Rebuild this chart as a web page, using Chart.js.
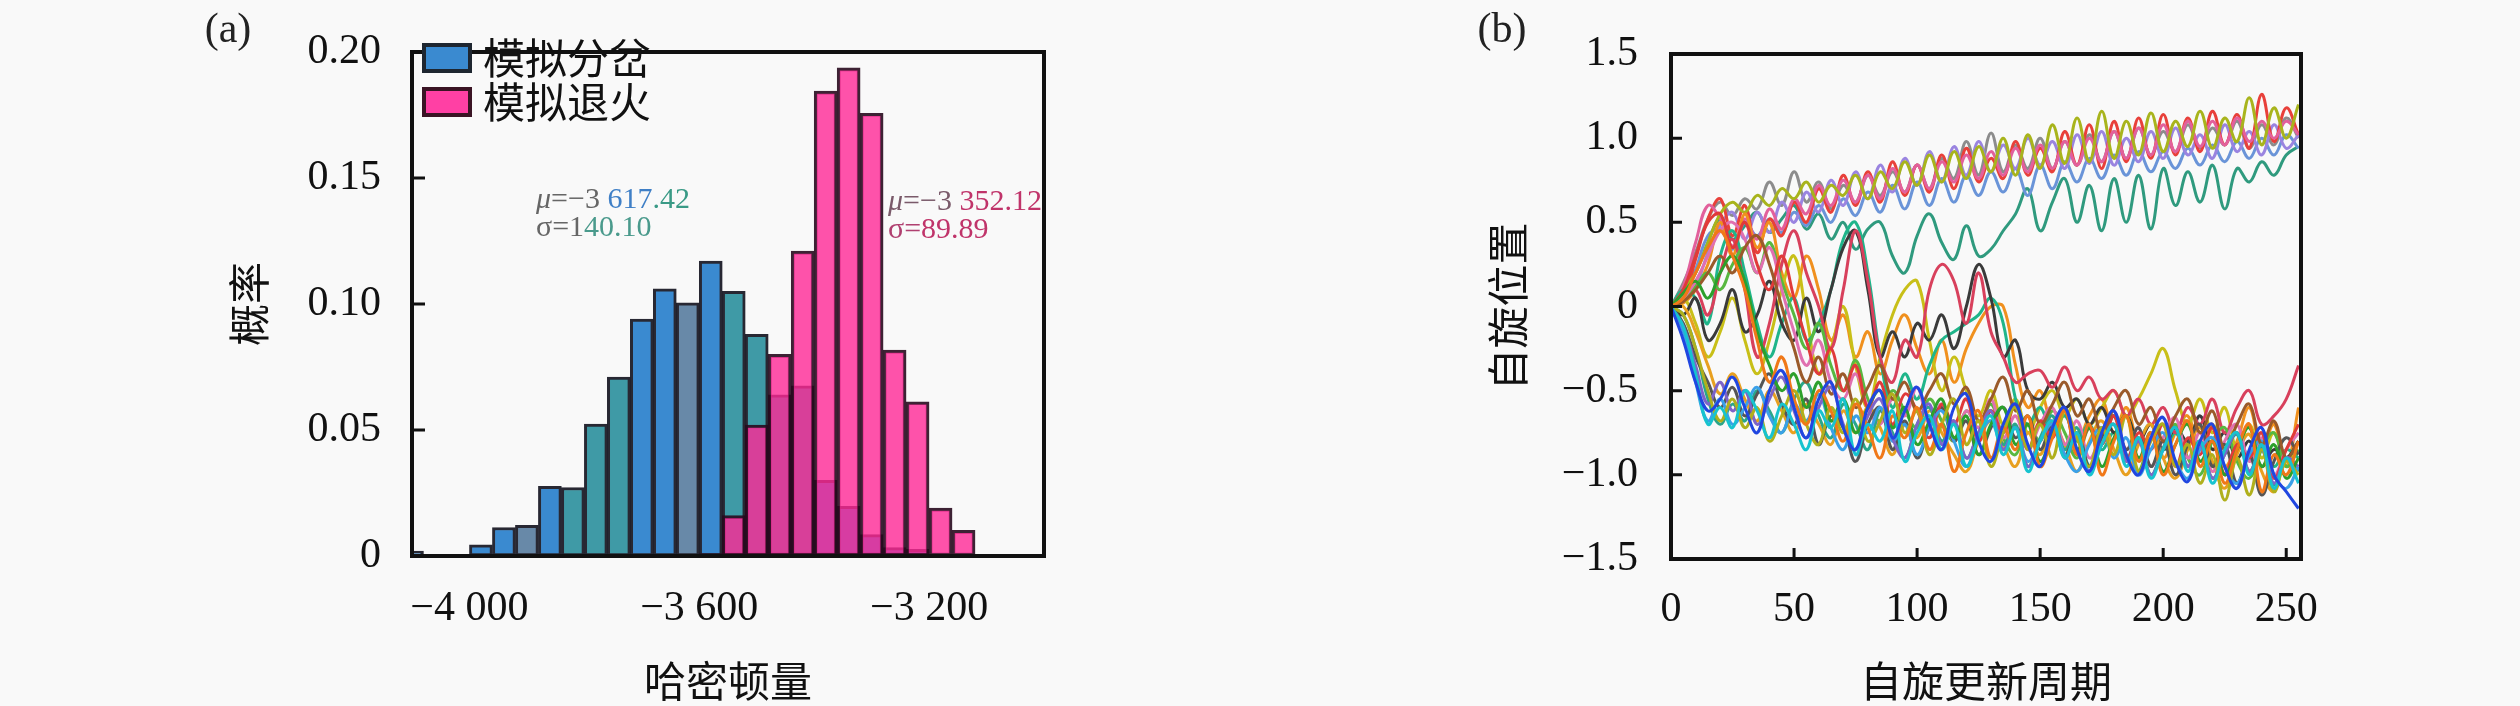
<!DOCTYPE html>
<html>
<head>
<meta charset="utf-8">
<script src="https://cdn.jsdelivr.net/npm/chart.js@4.4.1/dist/chart.umd.min.js"></script>
<style>
  html, body { margin: 0; padding: 0; background: #f9f9f9; }
  #wrap { position: relative; width: 2520px; height: 706px; }
  .pane { position: absolute; top: 0; width: 1260px; height: 706px; }
</style>
</head>
<body>
<div id="wrap">
  <div class="pane" style="left:0"><canvas id="histChart" width="1260" height="706"></canvas></div>
  <div class="pane" style="left:1260px"><canvas id="spinChart" width="1260" height="706"></canvas></div>
</div>
<script>
// ===== (a) 直方图数据：40 一格的分箱中心 =====
const binCenters = [-4100, -4060, -4020, -3980, -3940, -3900, -3860, -3820, -3780, -3740,
  -3700, -3660, -3620, -3580, -3540, -3500, -3460, -3420, -3380, -3340,
  -3300, -3260, -3220, -3180, -3140, -3100, -3060];
const bifurcationProb = [0.002, 0.0005, 0.0005, 0.0044, 0.0113, 0.0122, 0.0276, 0.0272, 0.0523, 0.071,
  0.094, 0.106, 0.1005, 0.117, 0.105, 0.088, 0.064, 0.0675, 0.030, 0.0197,
  0.0085, 0.0033, 0.0026, 0, 0, 0, 0];
const annealingProb = [0, 0, 0, 0, 0, 0, 0, 0, 0, 0,
  0, 0, 0, 0.001, 0.016, 0.052, 0.080, 0.121, 0.1845, 0.1937,
  0.1757, 0.0817, 0.0612, 0.019, 0.0102, 0.0007, 0.0007];
const energyTicks = [-4000, -3600, -3200];
const probTicks = [0, 0.05, 0.10, 0.15, 0.20];
const seriesNames = ['模拟分岔', '模拟退火'];

// 拟合参数文字（分段上色，跟原图一样有点杂色）
const bifurcationStats = [
  [{ t: 'μ', c: '#666', i: true }, { t: '=−3 ', c: '#666' }, { t: '617', c: '#3f7fc6' }, { t: '.42', c: '#3a9a86' }],
  [{ t: 'σ=1', c: '#666' }, { t: '40.10', c: '#4a9a8c' }]
];
const annealingStats = [
  [{ t: 'μ', c: '#7a5a6a', i: true }, { t: '=−3 ', c: '#7a5a6a' }, { t: '352.12', c: '#c0346a' }],
  [{ t: 'σ=', c: '#b04070' }, { t: '89.89', c: '#c0346a' }]
];

// ===== (b) 自旋位置演化：每 5 个周期取一点 =====
const cycles = [0, 5, 10, 15, 20, 25, 30, 35, 40, 45, 50, 55, 60, 65, 70, 75, 80, 85, 90, 95,
  100, 105, 110, 115, 120, 125, 130, 135, 140, 145, 150, 155, 160, 165, 170, 175, 180, 185, 190, 195,
  200, 205, 210, 215, 220, 225, 230, 235, 240, 245, 250, 255];
const cycleTicks = [0, 50, 100, 150, 200, 250];
const spinTicks = [-1.5, -1.0, -0.5, 0, 0.5, 1.0, 1.5];

// 下方分支
const lowBlue = [0,-0.2,-0.45,-0.62,-0.55,-0.42,-0.6,-0.75,-0.5,-0.38, -0.6,-0.78,-0.55,-0.45,-0.72,-0.85,-0.6,-0.5,-0.78,-0.62, -0.48,-0.7,-0.85,-0.6,-0.52,-0.8,-0.92,-0.7,-0.58,-0.82, -0.95,-0.72,-0.6,-0.85,-0.98,-0.75,-0.62,-0.88,-1.0,-0.78, -0.66,-0.92,-1.04,-0.8,-0.7,-0.95,-1.08,-0.85,-0.72,-1.0, -1.1,-1.2];
const lowCyan = [0,-0.12,-0.4,-0.7,-0.6,-0.72,-0.5,-0.62,-0.78,-0.58, -0.7,-0.85,-0.62,-0.72,-0.55,-0.88,-0.7,-0.8,-0.62,-0.92, -0.75,-0.65,-0.85,-0.7,-0.95,-0.78,-0.65,-0.88,-0.72,-0.98, -0.8,-0.68,-0.9,-0.75,-1.0,-0.82,-0.7,-0.95,-0.78,-1.02, -0.85,-0.72,-0.98,-0.8,-1.05,-0.85,-0.75,-1.0,-0.82,-1.08, -0.9,-1.05];
const lowOrange = [0,0.05,0.2,0.35,0.45,0.3,0.1,-0.2,-0.45,-0.3, -0.55,-0.7,-0.5,-0.62,-0.8,-0.58,-0.72,-0.9,-0.65,-0.78, -0.6,-0.85,-0.7,-0.98,-0.75,-0.62,-0.9,-0.72,-0.85,-0.65, -0.95,-0.78,-0.62,-0.88,-0.7,-1.0,-0.8,-0.65,-0.92,-0.75, -1.0,-0.82,-0.68,-0.95,-0.8,-1.05,-0.85,-0.7,-1.1,-0.88, -1.0,-0.8];
const lowOlive = [0,-0.05,-0.25,-0.5,-0.68,-0.55,-0.72,-0.6,-0.8,-0.65, -0.5,-0.7,-0.82,-0.6,-0.75,-0.55,-0.8,-0.68,-0.52,-0.75, -0.62,-0.88,-0.7,-0.55,-0.82,-0.68,-0.95,-0.75,-0.6,-0.85, -0.7,-0.9,-0.62,-0.78,-0.95,-0.72,-0.88,-0.65,-0.98,-0.8, -0.7,-0.95,-0.82,-1.05,-0.88,-1.15,-0.9,-1.12,-0.85,-1.1, -0.92,-1.0];
const lowGreen = [0,0.08,0.15,0.05,0.2,0.3,0.15,-0.15,-0.35,-0.5, -0.4,-0.6,-0.45,-0.68,-0.55,-0.75,-0.6,-0.5,-0.72,-0.6, -0.82,-0.68,-0.55,-0.78,-0.65,-0.88,-0.7,-0.6,-0.82,-0.7, -0.92,-0.75,-0.62,-0.85,-0.72,-0.95,-0.78,-0.65,-0.9,-0.75, -0.98,-0.82,-0.7,-0.92,-0.8,-1.0,-0.85,-0.72,-0.95,-0.82, -1.02,-0.9];
const lowPurple = [0,-0.12,-0.35,-0.58,-0.45,-0.62,-0.5,-0.7,-0.55,-0.42, -0.62,-0.78,-0.6,-0.48,-0.7,-0.85,-0.65,-0.55,-0.78,-0.9, -0.7,-0.58,-0.82,-0.68,-0.9,-0.75,-0.62,-0.85,-0.72,-0.95, -0.8,-0.68,-0.9,-0.78,-0.98,-0.82,-0.7,-0.92,-0.8,-1.0, -0.85,-0.72,-0.95,-0.82,-1.02,-0.88,-0.75,-0.98,-0.85,-1.05, -0.9,-0.95];
const lowBrown = [0,0.03,0.1,0.2,0.3,0.2,0.35,0.42,0.25,0.0, -0.25,-0.45,-0.3,-0.52,-0.4,-0.6,-0.48,-0.35,-0.55,-0.45, -0.62,-0.5,-0.4,-0.58,-0.48,-0.68,-0.55,-0.42,-0.62,-0.5, -0.7,-0.58,-0.45,-0.65,-0.55,-0.75,-0.6,-0.5,-0.7,-0.6, -0.8,-0.65,-0.55,-0.75,-0.62,-0.85,-0.7,-0.58,-0.82,-0.68, -0.9,-0.8];
const lowSky = [0,-0.15,-0.45,-0.68,-0.55,-0.7,-0.6,-0.48,-0.65,-0.75, -0.58,-0.68,-0.52,-0.72,-0.85,-0.65,-0.75,-0.6,-0.8,-0.7, -0.88,-0.72,-0.62,-0.8,-0.95,-0.78,-0.68,-0.85,-0.72,-0.92, -0.8,-0.7,-0.88,-0.98,-0.82,-0.72,-0.9,-0.78,-1.0,-0.85, -0.75,-0.92,-1.02,-0.85,-0.78,-0.95,-1.05,-0.88,-0.8,-1.0, -1.08,-0.95];
const lowRed = [0,0.1,0.3,0.5,0.55,0.35,0.5,0.25,0.1,0.3, 0.05,-0.2,-0.4,-0.25,-0.5,-0.35,-0.6,-0.45,-0.7,-0.52, -0.62,-0.78,-0.58,-0.7,-0.55,-0.8,-0.62,-0.75,-0.58,-0.85, -0.68,-0.78,-0.62,-0.88,-0.72,-0.82,-0.65,-0.92,-0.75,-0.85, -0.7,-0.95,-0.78,-0.88,-0.72,-1.0,-0.82,-0.9,-0.75,-1.02, -0.85,-0.7];
const lowSlate = [0,-0.1,-0.3,-0.45,-0.6,-0.48,-0.65,-0.52,-0.4,-0.58, -0.7,-0.55,-0.82,-0.65,-0.72,-0.92,-0.7,-0.6,-0.85,-0.68, -0.9,-0.72,-0.6,-0.8,-0.68,-0.88,-0.72,-0.6,-0.78,-0.65, -0.85,-0.7,-0.88,-0.75,-0.95,-0.78,-0.65,-0.85,-0.72,-0.95, -0.8,-1.0,-0.82,-0.7,-0.95,-0.82,-1.05,-0.88,-1.12,-0.92, -0.78,-0.88];
const lowTeal = [0,-0.05,-0.25,-0.55,-0.7,-0.58,-0.68,-0.5,-0.62,-0.75, -0.55,-0.45,-0.65,-0.78,-0.58,-0.7,-0.85,-0.62,-0.75,-0.9, -0.7,-0.6,-0.8,-0.68,-0.9,-0.75,-0.62,-0.82,-0.7,-0.95, -0.78,-0.65,-0.85,-0.72,-0.95,-0.82,-0.7,-0.9,-0.78,-1.0, -0.84,-0.72,-0.95,-0.8,-1.02,-0.88,-0.76,-0.98,-0.84,-1.06, -0.9,-0.98];
const lowPink = [0,0.05,0.15,0.3,0.45,0.5,0.4,0.2,0.35,0.1, -0.15,-0.35,-0.2,-0.45,-0.55,-0.4,-0.6,-0.7,-0.55,-0.65, -0.48,-0.7,-0.58,-0.8,-0.62,-0.72,-0.55,-0.78,-0.65,-0.85, -0.7,-0.6,-0.82,-0.68,-0.9,-0.75,-0.62,-0.85,-0.72,-0.95, -0.78,-0.66,-0.9,-0.75,-0.98,-0.8,-0.7,-0.92,-0.78,-1.0, -0.85,-0.75];
const lowAmber = [0,0.0,-0.15,-0.35,-0.52,-0.4,-0.55,-0.68,-0.5,-0.62, -0.75,-0.58,-0.7,-0.82,-0.62,-0.75,-0.6,-0.72,-0.88,-0.7, -0.78,-0.62,-0.75,-0.88,-0.98,-0.8,-0.68,-0.82,-0.95,-0.75, -0.88,-0.7,-0.82,-0.98,-0.8,-0.68,-0.85,-1.0,-0.82,-0.7, -0.9,-1.02,-0.85,-0.72,-0.92,-1.08,-0.88,-0.76,-0.98,-1.1, -0.9,-0.98];
const lowLime = [0,0.05,0.12,0.2,0.1,0.25,0.35,0.2,0.38,0.15, -0.05,-0.25,-0.1,-0.35,-0.5,-0.32,-0.55,-0.68,-0.5,-0.62, -0.72,-0.55,-0.68,-0.8,-0.62,-0.72,-0.58,-0.78,-0.88,-0.7, -0.8,-0.62,-0.75,-0.9,-0.72,-0.82,-0.65,-0.88,-0.98,-0.78, -0.85,-0.7,-0.9,-1.0,-0.8,-0.72,-0.92,-1.02,-0.85,-0.75, -0.95,-0.85];

// 中间徘徊、后来才落到下方的几条
const midCrimson = [0,0.05,0.10,-0.05,0.20,0.40,0.10,-0.30,-0.10,0.25, 0.45,0.20,0.00,-0.25,0.10,0.45,0.15,-0.30,-0.45,-0.20, -0.30,0.10,0.25,0.15,-0.10,0.20,-0.15,-0.30,-0.45,-0.40, -0.38,-0.48,-0.36,-0.50,-0.42,-0.55,-0.50,-0.65,-0.55,-0.70, -0.60,-0.75,-0.60,-0.70,-0.55,-0.75,-0.60,-0.50,-0.70,-0.65, -0.55,-0.35];
const midDark = [0,-0.05,0.05,-0.20,-0.10,0.10,-0.15,-0.05,0.15,-0.10, -0.20,0.05,-0.15,0.10,0.35,0.45,0.10,-0.30,-0.15,-0.30, -0.10,-0.20,-0.05,-0.25,0.00,0.25,0.05,-0.30,-0.20,-0.50, -0.55,-0.45,-0.60,-0.55,-0.70,-0.60,-0.75,-0.65,-0.80,-0.70, -0.85,-0.72,-0.80,-0.65,-0.85,-0.75,-0.90,-0.80,-0.95,-0.85, -0.90,-0.80];
const midGreen = [0,0.10,0.05,-0.10,0.30,0.45,0.20,-0.10,-0.30,-0.10, 0.05,-0.20,-0.10,0.10,0.40,0.50,0.20,-0.30,-0.60,-0.40, -0.55,-0.35,-0.20,-0.15,-0.10,-0.05,0.05,-0.10,-0.55,-0.70, -0.60,-0.75,-0.65,-0.80,-0.70,-0.85,-0.75,-0.90,-0.80,-0.70, -0.85,-0.75,-0.90,-0.80,-0.95,-0.85,-0.75,-0.90,-0.80,-0.95, -0.85,-0.90];
const midYellow = [0,0.05,-0.10,-0.30,-0.15,0.05,-0.20,-0.40,-0.20,0.10, 0.30,-0.05,-0.40,-0.25,0.00,-0.35,-0.60,-0.30,-0.05,0.10, 0.15,-0.20,-0.50,-0.30,-0.50,-0.65,-0.50,-0.70,-0.55,-0.75, -0.60,-0.50,-0.65,-0.55,-0.70,-0.60,-0.50,-0.65,-0.55,-0.40, -0.25,-0.50,-0.70,-0.55,-0.75,-0.60,-0.85,-0.70,-0.90,-0.75, -0.95,-0.80];
const midOrange = [0,0.02,0.10,0.25,0.50,0.30,0.55,0.35,0.50,0.20, 0.05,0.30,0.10,-0.20,-0.05,-0.30,-0.15,-0.40,-0.20,-0.05, -0.25,-0.40,-0.20,-0.45,-0.25,-0.10,0.00,0.00,-0.35,-0.60, -0.50,-0.70,-0.60,-0.80,-0.65,-0.55,-0.75,-0.60,-0.80,-0.70, -0.90,-0.75,-0.65,-0.85,-0.70,-0.95,-0.80,-0.60,-0.85,-0.70, -0.95,-0.60];

// 上方分支
const upOlive = [0,0.1,0.2,0.38,0.55,0.62,0.56,0.66,0.6,0.7, 0.64,0.74,0.62,0.72,0.66,0.78,0.64,0.8,0.7,0.86, 0.72,0.9,0.74,0.92,0.76,0.95,0.8,1.0,0.78,1.02, 0.82,1.08,0.85,1.12,0.86,1.16,0.88,1.1,0.9,1.15, 0.92,1.1,0.95,1.16,0.94,1.12,0.98,1.24,0.96,1.18, 1.0,1.2];
const upPink = [0,0.12,0.38,0.6,0.52,0.36,0.52,0.4,0.58,0.46, 0.64,0.55,0.72,0.6,0.75,0.62,0.78,0.64,0.82,0.68, 0.84,0.7,0.86,0.74,0.9,0.76,0.92,0.78,0.94,0.8, 0.96,0.82,0.98,0.84,1.0,0.86,1.04,0.88,1.06,0.9, 1.08,0.92,1.1,0.95,1.1,0.96,1.12,0.98,1.1,1.0, 1.1,1.02];
const upRed = [0,0.05,0.28,0.52,0.64,0.42,0.6,0.32,0.52,0.42, 0.62,0.5,0.7,0.56,0.78,0.6,0.8,0.62,0.86,0.66, 0.84,0.68,0.9,0.7,0.94,0.74,0.88,0.76,0.98,0.78, 0.94,0.8,1.04,0.84,1.08,0.82,1.1,0.86,1.12,0.88, 1.14,0.9,1.12,0.92,1.16,0.96,1.14,0.94,1.26,0.98, 1.18,1.02];
const upViolet = [0,0.04,0.12,0.32,0.48,0.56,0.4,0.56,0.44,0.62, 0.5,0.68,0.56,0.75,0.6,0.8,0.64,0.84,0.68,0.88, 0.72,0.92,0.74,0.95,0.78,0.98,0.8,0.96,0.82,1.0, 0.84,0.98,0.82,1.02,0.85,1.04,0.84,1.0,0.86,1.04, 0.88,1.06,0.9,1.02,0.88,1.08,0.92,1.04,0.9,1.08, 0.94,1.02];
const upGray = [0,0.14,0.32,0.52,0.62,0.54,0.64,0.58,0.74,0.6, 0.8,0.62,0.74,0.58,0.72,0.62,0.78,0.66,0.8,0.68, 0.84,0.7,0.88,0.76,0.98,0.78,1.03,0.8,0.96,0.82, 1.0,0.82,0.98,0.84,1.02,0.86,1.04,0.88,1.06,0.9, 1.04,0.92,1.08,0.94,1.06,0.96,1.1,0.94,1.08,0.96, 1.12,1.0];
const upSteel = [0,0.06,0.22,0.42,0.46,0.34,0.5,0.42,0.52,0.44, 0.56,0.48,0.6,0.5,0.64,0.54,0.68,0.56,0.72,0.58, 0.74,0.6,0.76,0.62,0.78,0.66,0.8,0.68,0.82,0.66, 0.84,0.7,0.86,0.74,0.88,0.76,0.9,0.78,0.92,0.8, 0.92,0.82,0.94,0.84,0.96,0.86,0.98,0.88,1.0,0.9, 1.02,0.94];
const upTeal = [0,0.08,0.2,0.38,0.52,0.4,0.48,0.56,0.44,0.52, 0.6,0.46,0.55,0.4,0.5,0.34,0.46,0.5,0.3,0.2, 0.42,0.55,0.38,0.28,0.48,0.3,0.34,0.45,0.55,0.7, 0.45,0.62,0.76,0.5,0.72,0.45,0.76,0.5,0.78,0.46, 0.82,0.6,0.8,0.62,0.84,0.58,0.82,0.74,0.86,0.78, 0.9,0.95];

const spinSeries = [lowBlue, lowCyan, lowOrange, lowOlive, lowGreen, lowPurple, lowBrown, lowSky, lowRed,
  lowSlate, lowTeal, lowPink, lowAmber, lowLime,
  midCrimson, midDark, midGreen, midYellow, midOrange,
  upOlive, upPink, upRed, upViolet, upGray, upSteel, upTeal];
const spinColors = ['#2046e0', '#17c3cf', '#f07818', '#b0b01c', '#2ca02c', '#7d64c8', '#9a5a2a', '#3aa0e8', '#e03a3a',
  '#555555', '#2aa68a', '#e070b0', '#e8a020', '#58b840',
  '#d8405c', '#3a3a3a', '#1fb58a', '#c8bf18', '#f0901e',
  '#a8b41c', '#e2609c', '#e8403a', '#9a84e0', '#8c8c8c', '#6a94d8', '#2f9a7e'];

// 蓝色柱子原图有深浅不一（蓝 / 青 / 灰蓝）
const B = '#3a8ad0', T = '#3f9aa6', S = '#6889a8';
const bifurcationShades = [B, B, B, B, B, S, B, T, T, T, B, B, S, B, T, T, T, T, B, B, B, B, B, B, B, B, B];

const tickFont = { family: 'Liberation Serif', size: 42, lineHeight: 1 };
const titleFont = { family: 'Noto Sans CJK SC', size: 42 };
const INK = '#111';

function fmtEnergy(v) {
  const s = String(Math.abs(v));
  return (v < 0 ? '\u2212' : '') + s.slice(0, -3) + ' ' + s.slice(-3);
}
function fmtProb(v) { return v === 0 ? '0' : v.toFixed(2); }
function fmtSpin(v) { return v === 0 ? '0' : (v < 0 ? '\u2212' : '') + Math.abs(v).toFixed(1); }

// 边框、向内刻度、(a)/(b) 标号
const panelDecor = {
  id: 'panelDecor',
  afterDatasetsDraw(chart, args, opts) {
    const ctx = chart.ctx, a = chart.chartArea;
    ctx.save();
    ctx.strokeStyle = INK;
    ctx.lineWidth = 3;
    ctx.beginPath();
    (opts.yTicks || []).forEach(v => {
      const y = chart.scales.y.getPixelForValue(v);
      ctx.moveTo(a.left, y); ctx.lineTo(a.left + opts.tickLen, y);
    });
    (opts.xTicks || []).forEach(v => {
      const x = chart.scales.x.getPixelForValue(v);
      ctx.moveTo(x, a.bottom); ctx.lineTo(x, a.bottom - opts.tickLen);
    });
    ctx.stroke();
    ctx.lineWidth = 4;
    ctx.strokeRect(a.left, a.top, a.right - a.left, a.bottom - a.top);
    ctx.fillStyle = '#222';
    ctx.font = '42px "Liberation Serif"';
    ctx.textAlign = 'center';
    ctx.textBaseline = 'middle';
    ctx.fillText(opts.tag, opts.tagX, opts.tagY);
    ctx.restore();
  }
};

// 图例 + μ/σ 文字
function drawSegments(ctx, segs, x, y) {
  segs.forEach(s => {
    ctx.font = (s.i ? 'italic ' : '') + '30px "Liberation Serif"';
    ctx.fillStyle = s.c;
    ctx.fillText(s.t, x, y);
    x += ctx.measureText(s.t).width;
  });
}
const histNotes = {
  id: 'histNotes',
  afterDraw(chart) {
    const ctx = chart.ctx;
    ctx.save();
    const patchFill = [B, '#ff40a4'];
    const patchEdge = ['#1e2630', '#3a1424'];
    chart.data.datasets.forEach((ds, i) => {
      const y = 43 + i * 44;
      ctx.fillStyle = patchFill[i];
      ctx.fillRect(422, y, 50, 30);
      ctx.lineWidth = 4;
      ctx.strokeStyle = patchEdge[i];
      ctx.strokeRect(424, y + 2, 46, 26);
      ctx.fillStyle = INK;
      ctx.font = '42px "Noto Sans CJK SC"';
      ctx.textAlign = 'left';
      ctx.textBaseline = 'middle';
      ctx.fillText(ds.label, 483, y + 15);
    });
    ctx.textAlign = 'left';
    ctx.textBaseline = 'middle';
    bifurcationStats.forEach((line, k) => drawSegments(ctx, line, 536, 200 + k * 28));
    annealingStats.forEach((line, k) => drawSegments(ctx, line, 888, 202 + k * 28));
    ctx.restore();
  }
};

// 柱状图的 x 轴是线性轴：强制范围，不要 offset
const ENERGY_MIN = -4100, ENERGY_MAX = -3000;

// ===== (a) 直方图 =====
new Chart(document.getElementById('histChart'), {
  type: 'bar',
  data: {
    datasets: [
      { label: seriesNames[0], data: binCenters.map((x, i) => ({ x, y: bifurcationProb[i] })),
        backgroundColor: bifurcationShades, borderColor: 'rgba(22,22,34,0.92)', borderWidth: 3,
        borderSkipped: false, grouped: false, barPercentage: 1, categoryPercentage: 1, order: 1 },
      { label: seriesNames[1], data: binCenters.map((x, i) => ({ x, y: annealingProb[i] })),
        backgroundColor: 'rgba(255,40,150,0.8)', borderColor: 'rgba(40,10,30,0.9)', borderWidth: 3,
        borderSkipped: false, grouped: false, barPercentage: 1, categoryPercentage: 1, order: 0 }
    ]
  },
  options: {
    responsive: false, animation: false, devicePixelRatio: 1,
    layout: { padding: { left: 0, top: 23, right: 216, bottom: 0 } },
    plugins: {
      legend: { display: false }, tooltip: { enabled: false },
      panelDecor: { tag: '(a)', tagX: 228, tagY: 31, tickLen: 13, yTicks: [0.05, 0.10, 0.15] }
    },
    scales: {
      x: { type: 'linear', min: ENERGY_MIN, max: ENERGY_MAX, offset: false, bounds: 'data',
        afterDataLimits: s => { s.min = ENERGY_MIN; s.max = ENERGY_MAX; },
        afterBuildTicks: s => { s.ticks = energyTicks.map(v => ({ value: v })); s.min = ENERGY_MIN; s.max = ENERGY_MAX; },
        afterFit: s => { s.height = 150; },
        grid: { display: false, drawTicks: false, offset: false }, border: { display: false },
        ticks: { padding: 32, font: tickFont, color: INK, callback: fmtEnergy, maxRotation: 0, autoSkip: false },
        title: { display: true, text: '哈密顿量', font: titleFont, color: INK, padding: { top: 0, bottom: 0 } } },
      y: { min: 0, max: 0.2,
        afterBuildTicks: s => { s.ticks = probTicks.map(v => ({ value: v })); },
        afterFit: s => { s.width = 412; },
        grid: { display: false, drawTicks: false }, border: { display: false },
        ticks: { padding: 31, font: tickFont, color: INK, callback: fmtProb },
        title: { display: true, text: '概率', font: titleFont, color: INK, padding: { top: 224, bottom: 0 } } }
    }
  },
  plugins: [panelDecor, histNotes]
});

// ===== (b) 自旋位置 =====
new Chart(document.getElementById('spinChart'), {
  type: 'line',
  data: {
    datasets: spinSeries.map((vals, k) => ({
      data: cycles.map((c, i) => ({ x: c, y: vals[i] })),
      borderColor: spinColors[k], borderWidth: 3, pointRadius: 0, tension: 0.4, fill: false
    }))
  },
  options: {
    responsive: false, animation: false, devicePixelRatio: 1,
    layout: { padding: { left: 0, top: 23, right: 219, bottom: 0 } },
    plugins: {
      legend: { display: false }, tooltip: { enabled: false },
      panelDecor: { tag: '(b)', tagX: 242, tagY: 31, tickLen: 11,
        yTicks: [-1.0, -0.5, 0, 0.5, 1.0], xTicks: [50, 100, 150, 200, 250] }
    },
    scales: {
      x: { type: 'linear', min: 0, max: 256,
        afterBuildTicks: s => { s.ticks = cycleTicks.map(v => ({ value: v })); },
        afterFit: s => { s.height = 147; },
        grid: { display: false, drawTicks: false }, border: { display: false },
        ticks: { padding: 30, font: tickFont, color: INK, maxRotation: 0, autoSkip: false },
        title: { display: true, text: '自旋更新周期', font: titleFont, color: INK, padding: { top: 0, bottom: 0 } } },
      y: { min: -1.5, max: 1.5,
        afterBuildTicks: s => { s.ticks = spinTicks.map(v => ({ value: v })); },
        afterFit: s => { s.width = 411; },
        grid: { display: false, drawTicks: false }, border: { display: false },
        ticks: { padding: 33, font: tickFont, color: INK, callback: fmtSpin },
        title: { display: true, text: '自旋位置', font: titleFont, color: INK, padding: { top: 223, bottom: 0 } } }
    }
  },
  plugins: [panelDecor]
});
</script>
</body>
</html>
